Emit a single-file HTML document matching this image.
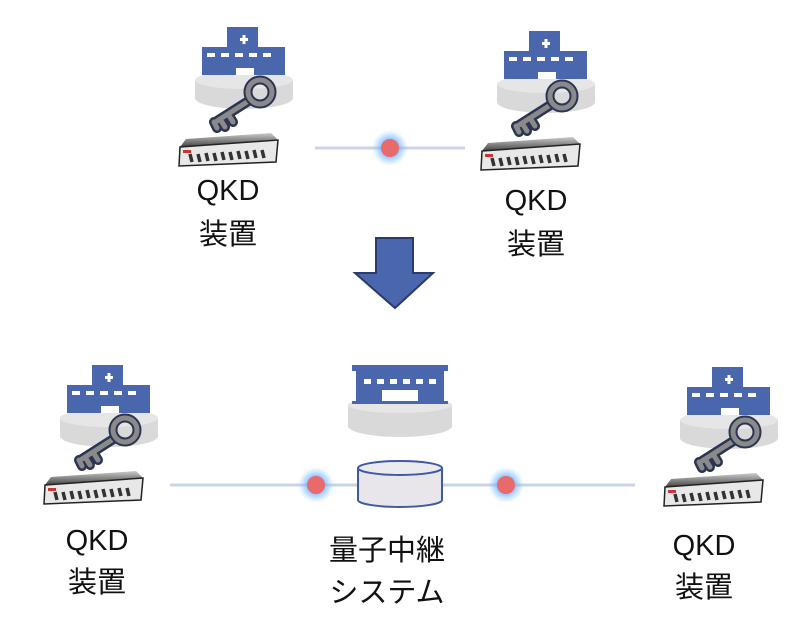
<!DOCTYPE html>
<html><head><meta charset="utf-8"><style>
body{margin:0;background:#fff;width:810px;height:632px;overflow:hidden}
text{font-family:"Liberation Sans","Noto Sans CJK JP",sans-serif;font-size:29px;fill:#111;text-anchor:middle}
</style></head><body>
<svg width="810" height="632" viewBox="0 0 810 632" xmlns="http://www.w3.org/2000/svg">
<defs>
<radialGradient id="glow"><stop offset="0.35" stop-color="#5aa8ff" stop-opacity="0.9"/><stop offset="1" stop-color="#8cc4ff" stop-opacity="0"/></radialGradient>
<linearGradient id="top" x1="0" y1="0" x2="0" y2="1"><stop offset="0" stop-color="#ccc"/><stop offset="1" stop-color="#444"/></linearGradient>
<g id="node">
  <ellipse cx="244" cy="98" rx="49" ry="11" fill="#d9d9d9"/>
  <rect x="195" y="80" width="98" height="18" fill="#d9d9d9"/>
  <ellipse cx="244" cy="80" rx="49" ry="9" fill="#e6e6e6"/>
  <rect x="227" y="27" width="31" height="22" fill="#4a67ad"/>
  <rect x="202" y="47" width="83" height="28" fill="#4a67ad"/>
  <rect x="240" y="38" width="8" height="3" fill="#fff"/><rect x="242.5" y="35" width="3" height="9" fill="#fff"/>
  <g fill="#fff"><rect x="207" y="53" width="8" height="4"/><rect x="221" y="53" width="8" height="4"/><rect x="235" y="53" width="8" height="4"/><rect x="249" y="53" width="8" height="4"/><rect x="263" y="53" width="8" height="4"/></g>
  <rect x="236" y="68" width="18" height="7" fill="#fff"/>
  <path d="M250 100 L217 121 M220 119 l5 8 M228 114 l5 8 M214 122 l3 6" stroke="#2b3452" stroke-width="10" stroke-linecap="round"/>
  <path d="M250 100 L217 121 M220 119 l5 8 M228 114 l5 8 M214 122 l3 6" stroke="#8a8a8a" stroke-width="5" stroke-linecap="round"/>
  <circle cx="260" cy="92" r="12" fill="none" stroke="#2b3452" stroke-width="9"/>
  <circle cx="260" cy="92" r="12" fill="none" stroke="#8a8a8a" stroke-width="5"/>
  <path d="M186 139 L271 133 L278 140 L180 147 Z" fill="url(#top)"/>
  <path d="M180 147 L278 140 L276 162 L179 166 Z" fill="#e8e8e8" stroke="#222" stroke-width="1.5"/>
  <g stroke="#333" stroke-width="3.5"><path d="M190 154l2 8M198 154l2 8M206 153l2 8M214 153l2 8M222 152l2 8M230 152l2 8M238 151l2 8M246 151l2 8M254 150l2 8M262 150l2 8"/></g>
  <rect x="183" y="150" width="8" height="3" fill="#c33"/>
</g>
<g id="dot"><circle r="18" fill="url(#glow)"/><circle r="9" fill="#e86a6a"/></g>
</defs>

<line x1="315" y1="148" x2="465" y2="148" stroke="#c9d3ea" stroke-width="3"/>
<use href="#dot" x="390" y="148"/>
<use href="#node"/>
<use href="#node" x="302" y="4"/>
<text x="228" y="200">QKD</text><text x="228" y="244">装置</text>
<text x="536" y="210">QKD</text><text x="536" y="254">装置</text>

<path d="M376 238 H413 V273 H433 L395 308 L355 273 H376 Z" fill="#4a67ad" stroke="#2b3a6a" stroke-width="2"/>

<line x1="170" y1="485" x2="635" y2="485" stroke="#c9d3ea" stroke-width="3"/>
<use href="#dot" x="316" y="485"/>
<use href="#dot" x="506" y="485"/>
<use href="#node" x="-135" y="338"/>
<use href="#node" x="485" y="340"/>

<ellipse cx="400" cy="426" rx="52" ry="11" fill="#d9d9d9"/>
<rect x="348" y="405" width="104" height="21" fill="#d9d9d9"/>
<ellipse cx="400" cy="405" rx="52" ry="8" fill="#e6e6e6"/>
<rect x="352" y="365" width="96" height="6" fill="#4a67ad"/>
<rect x="356" y="371" width="88" height="31" fill="#4a67ad"/>
<rect x="352" y="401" width="96" height="3" fill="#4a67ad"/>
<g fill="#fff"><rect x="364" y="379" width="7" height="5"/><rect x="377" y="379" width="7" height="5"/><rect x="390" y="379" width="7" height="5"/><rect x="403" y="379" width="7" height="5"/><rect x="416" y="379" width="7" height="5"/><rect x="429" y="379" width="7" height="5"/></g>
<rect x="382" y="390" width="36" height="11" fill="#fff"/>

<path d="M358 468 V500 A42 7 0 0 0 442 500 V468" fill="#e8e6ea" stroke="#3d5aa6" stroke-width="2"/>
<ellipse cx="400" cy="468" rx="42" ry="7" fill="#eceaee" stroke="#3d5aa6" stroke-width="2"/>

<text x="97" y="550">QKD</text><text x="97" y="592">装置</text>
<text x="704" y="555">QKD</text><text x="704" y="597">装置</text>
<text x="387" y="560">量子中継</text><text x="387" y="602">システム</text>
</svg>
</body></html>
